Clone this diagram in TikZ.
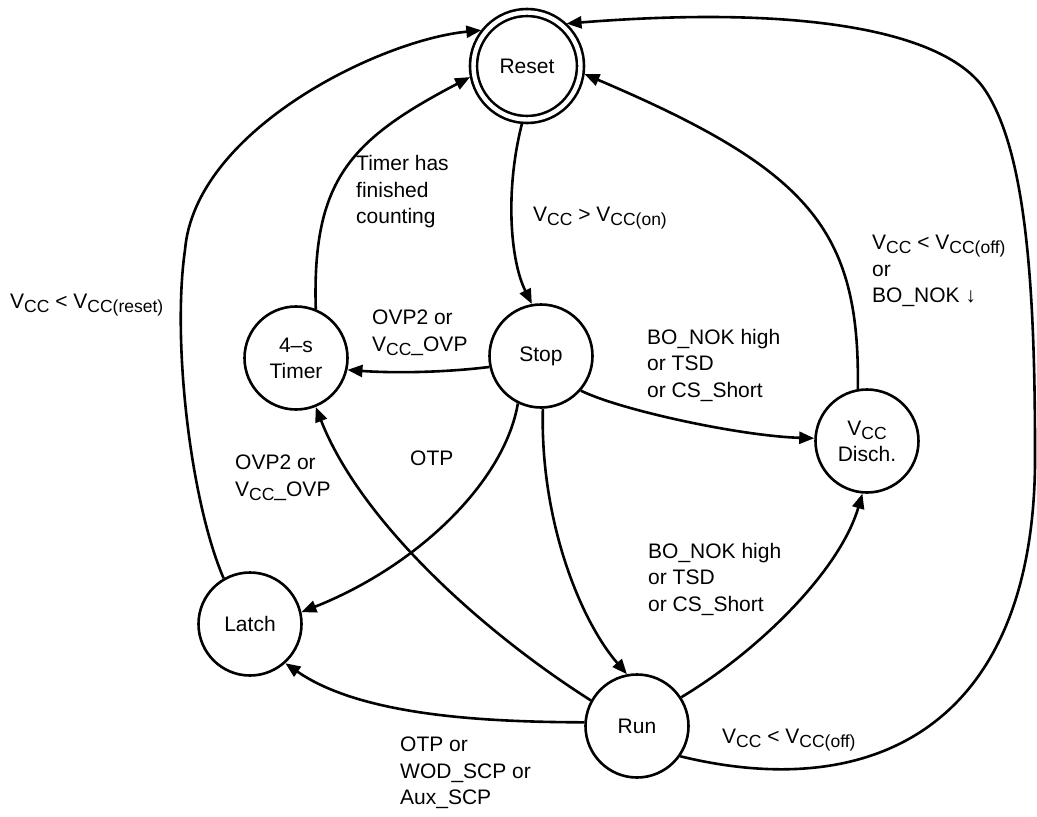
\documentclass[tikz,border=0pt]{standalone}
\usepackage{fontspec}
\setmainfont{Liberation Sans}
\usetikzlibrary{arrows.meta}
\newcommand{\Vsb}[1]{\raisebox{-0.2em}{\fontsize{17.5}{17.5}\selectfont #1}}
\begin{document}
\begin{tikzpicture}[x=1pt,y=-1pt,
  state/.style={circle,draw,line width=2.6pt,minimum size=103pt,inner sep=0pt,
    font=\fontsize{21}{26}\selectfont,align=center},
  lbl/.style={anchor=west,inner sep=0pt,font=\fontsize{21}{26.5}\selectfont,align=left},
  edge/.style={line width=2.6pt,-{Triangle[length=15pt,width=12pt]}},
]
\fill[white] (0,0) rectangle (1037,817);
\useasboundingbox (0,0) rectangle (1037,817);

% states
\node[state,double,double distance=4.4pt,minimum size=107pt,outer sep=4.5pt] (reset) at (527,66) {Reset};
\node[state] (stop)  at (541,356) {Stop};
\node[state] (timer) at (296,358) {4--s\\Timer};
\node[state] (vcc)   at (867,441) {V\Vsb{CC}\\Disch.};
\node[state] (latch) at (250,624) {Latch};
\node[state] (run)   at (637,726) {Run};

% waypoints
\coordinate (w1) at (185,250);
\coordinate (w2) at (1035,450);
\coordinate (w3) at (985,90);

% connectors
\draw[edge] (reset.-95) .. controls (505,190) and (510,260) .. (stop.100);
\draw[edge] (stop.192) .. controls (440,373) and (390,373) .. (timer.-13);
\draw[edge] (timer.68) .. controls (312,180) and (350,140) .. (reset.191);
\draw[edge] (latch.120) .. controls (190,500) and (172,340) .. (w1)
                        .. controls (195,130) and (380,40) .. (reset.142);
\draw[edge] (stop.-41) .. controls (620,410) and (740,436) .. (vcc.177);
\draw[edge] (vcc.100) .. controls (860,230) and (810,170) .. (reset.-8);
\draw[edge] (stop.-116) .. controls (505,480) and (420,565) .. (latch.13);
\draw[edge] (stop.-88) .. controls (540,520) and (580,620) .. (run.101);
\draw[edge] (run.151) .. controls (480,630) and (360,520) .. (timer.-68);
\draw[edge] (run.176) .. controls (480,722) and (360,715) .. (latch.-48);
\draw[edge] (run.33) .. controls (760,650) and (840,570) .. (vcc.-95);
\draw[edge] (run.-35) .. controls (880,805) and (1038,720) .. (w2)
                      .. controls (1035,280) and (1025,150) .. (w3)
                      .. controls (945,30) and (800,5) .. (reset.47);

% labels
\node[lbl] (l1) at (10,305) {V\Vsb{CC} < V\Vsb{CC(reset)}};
\node[lbl] (l2) at (533,218) {V\Vsb{CC} > V\Vsb{CC(on)}};
\node[lbl] (l3) at (356,192) {Timer has\\finished\\counting};
\node[lbl] (l4) at (372,333) {OVP2 or\\V\Vsb{CC}\_OVP};
\node[lbl] (l5) at (647,365) {BO\_NOK high\\or TSD\\or CS\_Short};
\node[lbl] (l6) at (872,271) {V\Vsb{CC} < V\Vsb{CC(off)}\\or\\BO\_NOK ↓};
\node[lbl] (l7) at (235,478) {OVP2 or\\V\Vsb{CC}\_OVP};
\node[lbl] (l8) at (410,458) {OTP};
\node[lbl] (l9) at (648,579) {BO\_NOK high\\or TSD\\or CS\_Short};
\node[lbl] (l10) at (400,773) {OTP or\\WOD\_SCP or\\Aux\_SCP};
\node[lbl] (l11) at (722,740) {V\Vsb{CC} < V\Vsb{CC(off)}};
\end{tikzpicture}
\end{document}
